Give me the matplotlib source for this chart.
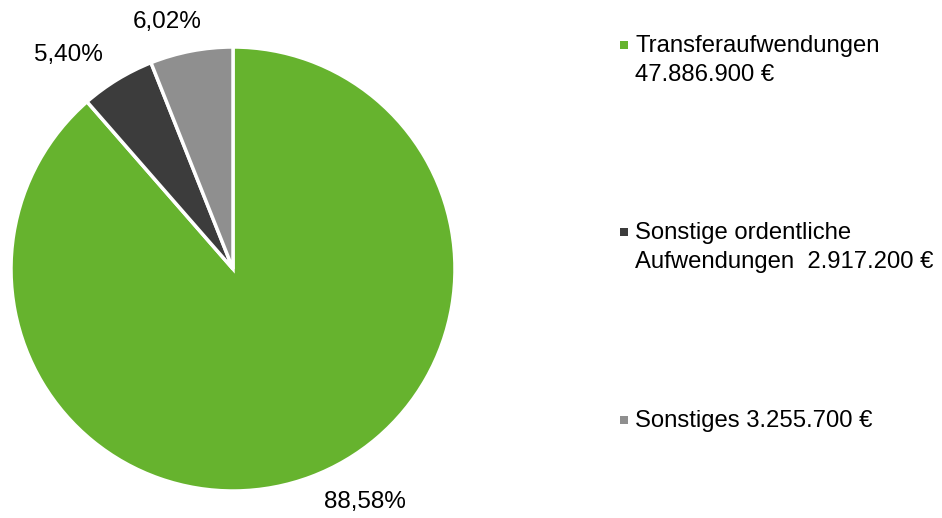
import matplotlib
matplotlib.use('Agg')
import numpy as np
import matplotlib.pyplot as plt
from matplotlib.patches import Rectangle

# Aufwendungen, Anteile am Gesamtbetrag
categories = ['Transferaufwendungen', 'Sonstige ordentliche Aufwendungen', 'Sonstiges']
values = [47886900, 2917200, 3255700]
legend_labels = ['Transferaufwendungen\n47.886.900 €',
                 'Sonstige ordentliche\nAufwendungen  2.917.200 €',
                 'Sonstiges 3.255.700 €']
colors = ['#66B32E', '#3C3C3C', '#8F8F8F']

plt.rcParams['font.family'] = ['Liberation Sans', 'DejaVu Sans']

W, H = 942, 518
fig = plt.figure(figsize=(W / 100, H / 100), dpi=100)

# pie axes: centre ~ (233, 269), radius ~ 222 px
cx, cy, r = 233, 269, 222
ax = fig.add_axes([(cx - r) / W, (H - cy - r) / H, 2 * r / W, 2 * r / H])


def fmt_pct(p):
    return ('%.2f%%' % p).replace('.', ',')


wedges, texts, autotexts = ax.pie(values, colors=colors, startangle=90, counterclock=False,
                                  autopct=fmt_pct, pctdistance=1.2, radius=1,
                                  wedgeprops=dict(edgecolor='white', linewidth=2.5),
                                  textprops=dict(fontsize=17.5, color='black'))

# place percentage labels like the original (outside, slightly rotated from slice middle)
label_dist = [1.207, 1.216, 1.152]
label_shift = [8.9, 6.1, 4.1]
for w, t, d, s in zip(wedges, autotexts, label_dist, label_shift):
    ang = np.deg2rad((w.theta1 + w.theta2) / 2 + s)
    t.set_position((d * np.cos(ang), d * np.sin(ang)))
    t.set_ha('center')
    t.set_va('center')

ax.set_xlim(-1, 1)
ax.set_ylim(-1, 1)
ax.set_aspect('equal')
ax.axis('off')

# legend drawn by hand (squares + text)
legend_y = [45, 232, 420]
for lab, col, y in zip(legend_labels, colors, legend_y):
    fig.add_artist(Rectangle((620 / W, (H - y - 4) / H), 8 / W, 8 / H,
                             transform=fig.transFigure, facecolor=col, edgecolor='none'))
    fig.text(635 / W, (H - y + 10) / H, lab, fontsize=17.2, va='top', ha='left',
             linespacing=1.41)

fig.savefig('out.png', dpi=100, facecolor='white')
